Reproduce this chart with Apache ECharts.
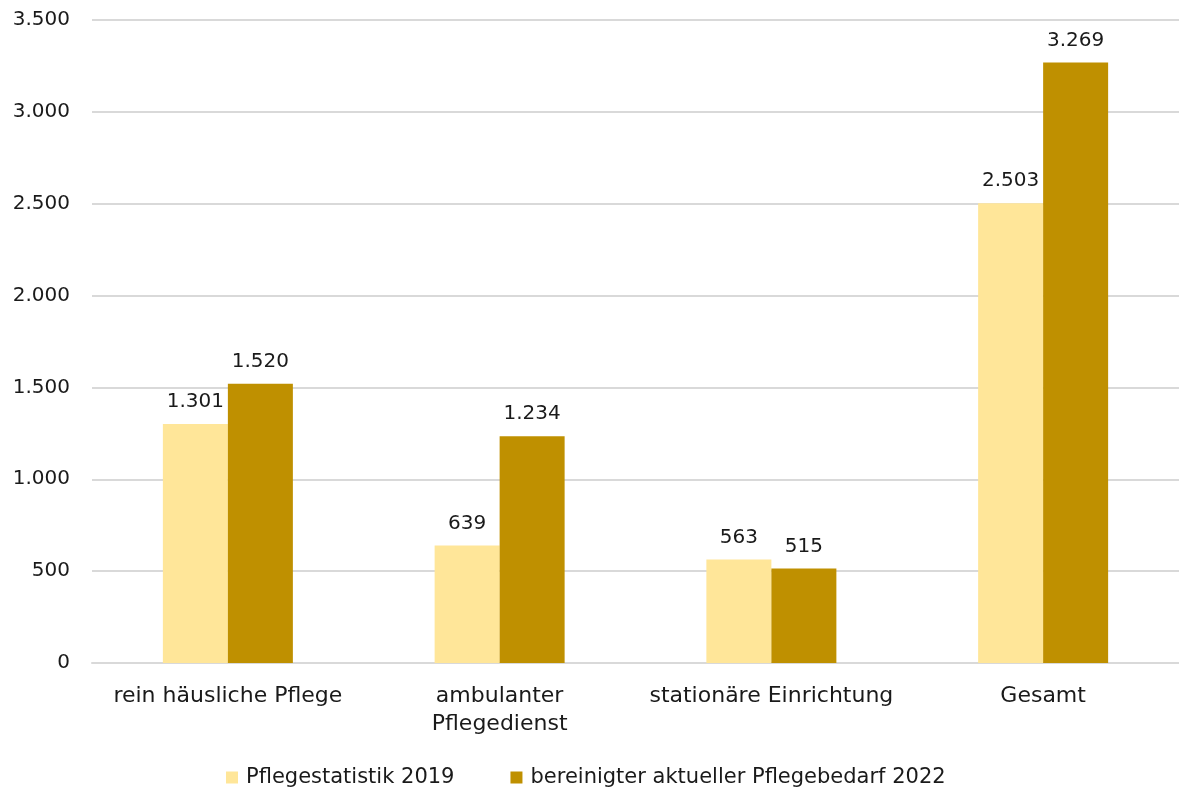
<!DOCTYPE html>
<html>
<head>
<meta charset="utf-8">
<script src="https://cdn.jsdelivr.net/npm/echarts@6/dist/echarts.min.js"></script>
<style>
  html, body { margin: 0; padding: 0; background: #ffffff; }
  #chart { width: 1179px; height: 789px; }
</style>
</head>
<body>
<div id="chart"></div>
<script>
// Pflegebedürftige nach Versorgungsart
const categories = ['rein häusliche Pflege', 'ambulanter\nPflegedienst', 'stationäre Einrichtung', 'Gesamt'];
const seriesNames = ['Pflegestatistik 2019', 'bereinigter aktueller Pflegebedarf 2022'];
const values2019 = [1301, 639, 563, 2503];
const values2022 = [1520, 1234, 515, 3269];
const yTicks = { min: 0, max: 3500, interval: 500 };

const FONT = 'DejaVu Sans';
const TEXT = '#1a1a1a';

function fmt(v) {
  return String(Math.round(v)).replace(/\B(?=(\d{3})+(?!\d))/g, '.');
}

const chart = echarts.init(document.getElementById('chart'), null, { renderer: 'canvas' });

const labelCfg = {
  show: true,
  position: 'top',
  distance: 12,
  color: TEXT,
  fontFamily: FONT,
  fontSize: 20,
  formatter: p => fmt(p.value)
};

chart.setOption({
  animation: false,
  textStyle: { fontFamily: FONT },
  grid: { left: 92, top: 20, width: 1089, height: 643, containLabel: false },
  legend: {
    top: 767,
    left: 226,
    padding: 0,
    itemWidth: 12,
    itemHeight: 12,
    itemGap: 56,
    icon: 'rect',
    textStyle: { fontFamily: FONT, fontSize: 21, color: TEXT, padding: [0, 0, 0, 3] },
    data: seriesNames
  },
  xAxis: {
    type: 'category',
    data: categories,
    axisLine: { show: true, lineStyle: { color: '#d9d9d9', width: 2 } },
    axisTick: { show: false },
    axisLabel: {
      color: TEXT, fontFamily: FONT, fontSize: 22, margin: 19,
      lineHeight: 28, interval: 0
    }
  },
  yAxis: {
    type: 'value',
    min: yTicks.min,
    max: yTicks.max,
    interval: yTicks.interval,
    axisLine: { show: false },
    axisTick: { show: false },
    splitLine: { lineStyle: { color: '#d9d9d9', width: 2 } },
    axisLabel: {
      color: TEXT, fontFamily: FONT, fontSize: 20, margin: 22,
      formatter: v => fmt(v)
    }
  },
  series: [
    {
      name: seriesNames[0],
      type: 'bar',
      data: values2019,
      barWidth: 65,
      barGap: '0%',
      itemStyle: { color: '#FFE699' },
      label: labelCfg
    },
    {
      name: seriesNames[1],
      type: 'bar',
      data: values2022,
      barWidth: 65,
      barGap: '0%',
      itemStyle: { color: '#BF9000' },
      label: labelCfg
    }
  ]
});
</script>
</body>
</html>
